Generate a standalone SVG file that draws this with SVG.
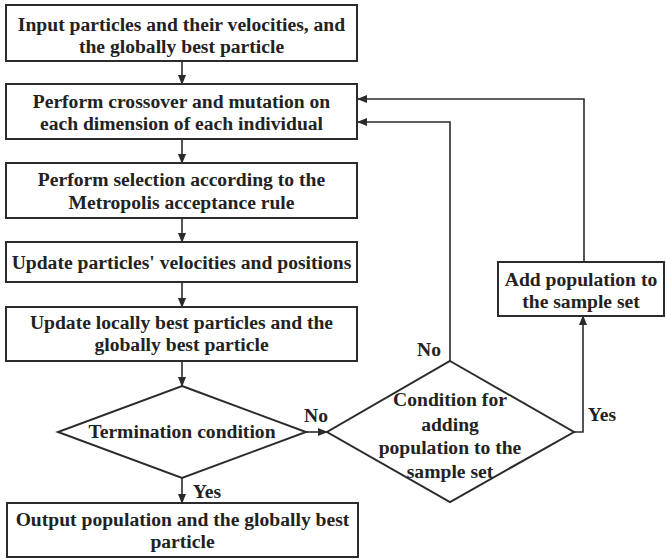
<svg xmlns="http://www.w3.org/2000/svg" width="666" height="559" viewBox="0 0 666 559">
<style>
.box{fill:#fff;stroke:#2b2b2b;stroke-width:2}
.t{font-family:"Liberation Serif","Times New Roman",serif;font-weight:bold;font-size:19.6px;fill:#222;text-anchor:middle}
.c{fill:none;stroke:#2b2b2b;stroke-width:1.6}
</style>
<defs>
<marker id="ah" markerWidth="10" markerHeight="8" refX="9" refY="4" orient="auto" markerUnits="userSpaceOnUse">
<path d="M0,0 L10,4 L0,8 Z" fill="#2b2b2b"/>
</marker>
</defs>
<rect width="666" height="559" fill="#fff"/>
<g id="connectors">
<line class="c" x1="182" y1="61" x2="182" y2="84" marker-end="url(#ah)"/>
<line class="c" x1="182" y1="139" x2="182" y2="163" marker-end="url(#ah)"/>
<line class="c" x1="182" y1="218" x2="182" y2="242" marker-end="url(#ah)"/>
<line class="c" x1="182" y1="282" x2="182" y2="307" marker-end="url(#ah)"/>
<line class="c" x1="182" y1="361" x2="182" y2="386" marker-end="url(#ah)"/>
<line class="c" x1="182" y1="478" x2="182" y2="503" marker-end="url(#ah)"/>
<line class="c" x1="306" y1="432" x2="327" y2="432" marker-end="url(#ah)"/>
<polyline class="c" points="450,361 450,122 358,122" marker-end="url(#ah)"/>
<polyline class="c" points="574,432 583,432 583,316" marker-end="url(#ah)"/>
<polyline class="c" points="584,262 584,99 358,99" marker-end="url(#ah)"/>
<text class="t" x="207" y="498">Yes</text>
<text class="t" x="316" y="422">No</text>
<text class="t" x="429" y="356">No</text>
<text class="t" x="602" y="421">Yes</text>
</g>
<g id="n1"><rect class="box" x="6" y="5" width="351" height="56"/>
<text class="t" x="181.5" y="31">Input particles and their velocities, and</text>
<text class="t" x="181.5" y="53">the globally best particle</text></g>
<g id="n2"><rect class="box" x="6" y="84" width="351" height="55"/>
<text class="t" x="181.5" y="108">Perform crossover and mutation on</text>
<text class="t" x="181.5" y="130">each dimension of each individual</text></g>
<g id="n3"><rect class="box" x="6" y="163" width="351" height="55"/>
<text class="t" x="181.5" y="186">Perform selection according to the</text>
<text class="t" x="181.5" y="209">Metropolis acceptance rule</text></g>
<g id="n4"><rect class="box" x="6" y="242" width="351" height="40"/>
<text class="t" x="181.5" y="269">Update particles' velocities and positions</text></g>
<g id="n5"><rect class="box" x="6" y="307" width="351" height="54"/>
<text class="t" x="181.5" y="329">Update locally best particles and the</text>
<text class="t" x="181.5" y="351">globally best particle</text></g>
<g id="d1"><polygon class="box" points="182,386 306,432 182,478 58,432"/>
<text class="t" x="182" y="438">Termination condition</text></g>
<g id="d2"><polygon class="box" points="450,361 574,432 450,502 327,432"/>
<text class="t" x="450" y="406">Condition for</text>
<text class="t" x="450" y="431">adding</text>
<text class="t" x="450" y="454">population to the</text>
<text class="t" x="450" y="478">sample set</text></g>
<g id="n6"><rect class="box" x="7" y="503" width="351" height="54"/>
<text class="t" x="182.5" y="526">Output population and the globally best</text>
<text class="t" x="182.5" y="548">particle</text></g>
<g id="n7"><rect class="box" x="498" y="262" width="166" height="54"/>
<text class="t" x="581" y="286">Add population to</text>
<text class="t" x="581" y="308">the sample set</text></g>
</svg>
